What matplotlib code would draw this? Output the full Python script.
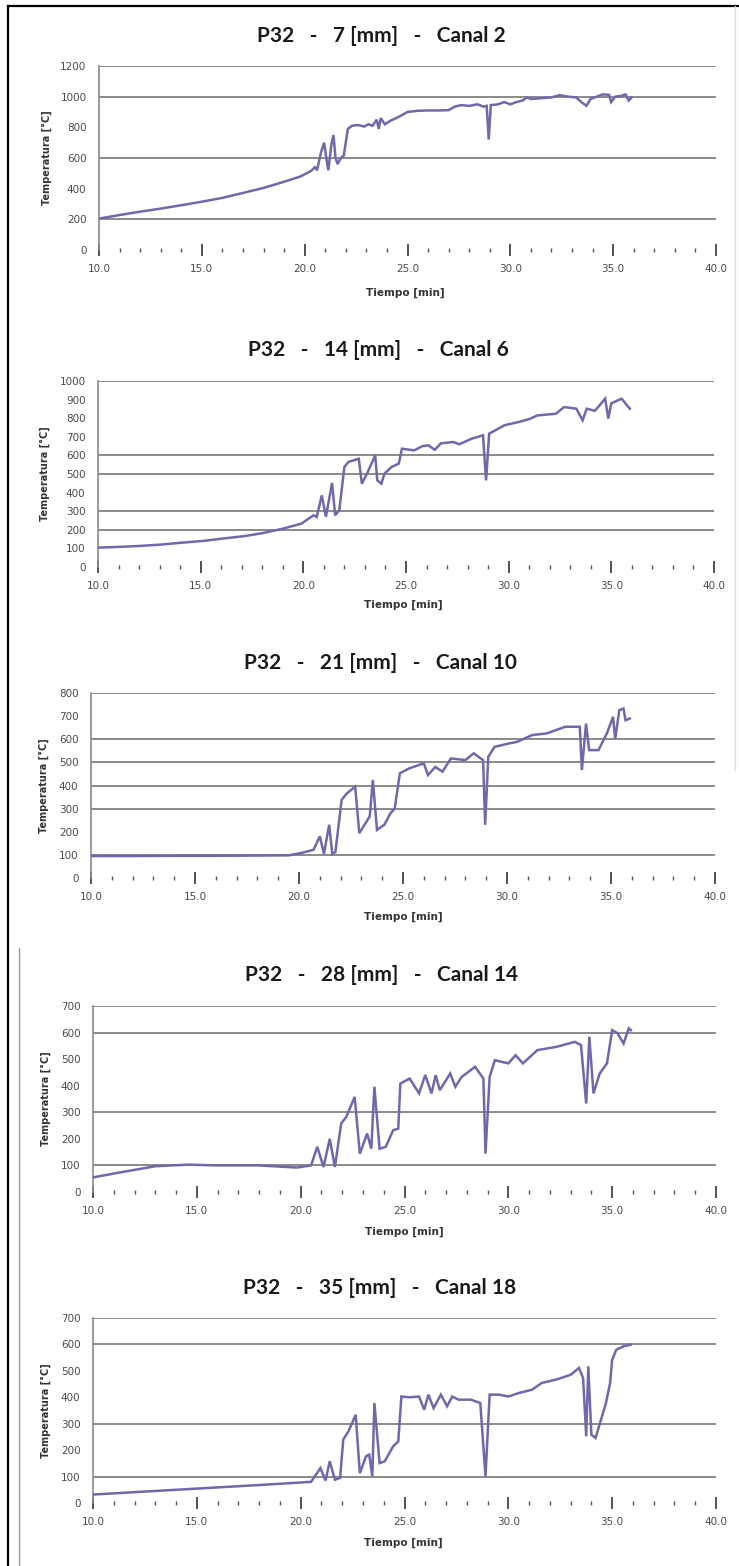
import matplotlib
matplotlib.use("Agg")
import matplotlib.pyplot as plt
from matplotlib.lines import Line2D
import numpy as np

# ---- data: time [min] and temperature [°C] for each thermocouple channel ----
titles = [
    "P32   -   7 [mm]   -   Canal 2",
    "P32   -   14 [mm]   -   Canal 6",
    "P32   -   21 [mm]   -   Canal 10",
    "P32   -   28 [mm]   -   Canal 14",
    "P32   -   35 [mm]   -   Canal 18",
]

t_c2 = [10.0, 11.0, 12.0, 13.0, 14.0, 15.0, 16.0, 17.0, 18.0, 19.0, 19.8, 20.3, 20.5, 20.6,
        20.8, 20.95, 21.05, 21.15, 21.3, 21.4, 21.5, 21.6, 21.75, 21.9, 22.1, 22.3, 22.6,
        22.9, 23.1, 23.3, 23.5, 23.6, 23.7, 23.9, 24.2, 24.6, 25.0, 25.5, 26.0, 26.5, 27.0,
        27.3, 27.6, 28.0, 28.4, 28.7, 28.85, 28.95, 29.05, 29.4, 29.7, 30.0, 30.3, 30.6,
        30.8, 31.0, 31.5, 32.0, 32.4, 32.8, 33.2, 33.5, 33.7, 33.9, 34.2, 34.5, 34.8, 34.9,
        35.1, 35.4, 35.6, 35.75, 35.9]
T_c2 = [205, 228, 250, 270, 292, 315, 340, 372, 405, 445, 480, 515, 540, 520,
        640, 700, 600, 520, 690, 750, 600, 560, 600, 615, 790, 810, 815,
        805, 820, 810, 850, 790, 860, 820, 845, 870, 900, 908, 910, 910, 912,
        935, 945, 940, 950, 935, 940, 720, 945, 950, 965, 950, 965, 975,
        995, 985, 990, 995, 1010, 1000, 995, 960, 940, 985, 1000, 1015, 1012, 965,
        1000, 1005, 1015, 975, 995]

t_c6 = [10.0, 11.0, 12.0, 13.0, 14.0, 15.1, 16.0, 17.2, 18.0, 19.0, 19.9, 20.5, 20.65,
        20.9, 21.1, 21.4, 21.55, 21.75, 22.0, 22.2, 22.7, 22.85, 23.1, 23.5, 23.6, 23.8,
        23.95, 24.3, 24.65, 24.8, 25.4, 25.8, 26.1, 26.4, 26.7, 27.3, 27.6, 28.2, 28.75,
        28.9, 29.05, 29.8, 30.5, 31.0, 31.4, 32.3, 32.7, 33.3, 33.6, 33.8, 34.2, 34.7,
        34.85, 35.0, 35.5, 35.7, 35.9]
T_c6 = [104, 108, 113, 120, 130, 140, 152, 167, 182, 206, 233, 278, 269,
        385, 270, 452, 278, 305, 538, 565, 582, 448, 502, 600, 466, 448,
        502, 538, 556, 636, 627, 650, 654, 630, 665, 672, 660, 690, 708,
        466, 717, 762, 780, 795, 815, 824, 860, 851, 789, 851, 840, 905,
        798, 880, 905, 878, 851]

t_c10 = [10.0, 12.0, 14.0, 16.0, 18.0, 19.5, 20.1, 20.7, 21.0, 21.2, 21.45, 21.6, 21.75,
         22.05, 22.3, 22.7, 22.9, 23.2, 23.4, 23.55, 23.75, 24.1, 24.4, 24.6, 24.85,
         25.3, 26.0, 26.2, 26.55, 26.9, 27.3, 28.0, 28.4, 28.85, 28.95, 29.1, 29.4, 30.1,
         30.5, 31.2, 31.9, 32.8, 33.5, 33.6, 33.8, 33.95, 34.4, 34.8, 35.1, 35.2, 35.4,
         35.6, 35.7, 35.9]
T_c10 = [95, 95, 96, 96, 97, 98, 108, 122, 180, 105, 230, 105, 112,
         338, 366, 395, 194, 237, 266, 424, 208, 230, 280, 300, 453,
         474, 496, 445, 480, 460, 517, 510, 539, 510, 230, 524, 567, 582,
         589, 618, 625, 654, 654, 467, 668, 553, 553, 625, 697, 600, 726,
         733, 682, 690]

t_c14 = [10.0, 11.4, 13.0, 14.6, 16.0, 18.0, 19.8, 20.5, 20.8, 21.1, 21.4, 21.65, 21.95,
         22.2, 22.6, 22.85, 23.2, 23.4, 23.55, 23.8, 24.1, 24.45, 24.7, 24.8, 25.25,
         25.7, 26.0, 26.3, 26.5, 26.7, 27.2, 27.45, 27.75, 28.4, 28.8, 28.9, 29.1, 29.35,
         30.0, 30.35, 30.7, 31.4, 32.3, 33.2, 33.5, 33.75, 33.9, 34.1, 34.4, 34.75, 35.0,
         35.25, 35.55, 35.8, 35.9]
T_c14 = [55, 75, 97, 103, 100, 100, 92, 100, 170, 94, 200, 94, 258,
         283, 358, 144, 220, 163, 396, 163, 170, 232, 239, 408, 427,
         371, 440, 371, 440, 383, 446, 396, 433, 471, 427, 144, 433, 496,
         484, 515, 484, 534, 546, 565, 553, 333, 584, 371, 446, 484, 609,
         598, 559, 616, 609]

t_c18 = [10.0, 12.0, 14.0, 16.0, 18.0, 20.5, 20.95, 21.2, 21.4, 21.65, 21.9, 22.05, 22.3,
         22.65, 22.85, 23.15, 23.3, 23.45, 23.55, 23.8, 24.05, 24.45, 24.7, 24.85, 25.25,
         25.7, 25.95, 26.15, 26.4, 26.75, 27.05, 27.3, 27.6, 28.2, 28.65, 28.9, 29.1,
         29.55, 30.0, 30.5, 31.15, 31.6, 32.3, 33.0, 33.4, 33.6, 33.75, 33.85, 34.0, 34.2,
         34.7, 34.9, 35.0, 35.2, 35.55, 35.9]
T_c18 = [32, 41, 50, 59, 68, 80, 132, 85, 158, 88, 95, 240, 271,
         334, 113, 177, 183, 101, 378, 151, 158, 214, 233, 403, 400,
         403, 353, 410, 359, 410, 366, 403, 391, 391, 378, 101, 410,
         410, 403, 416, 429, 454, 467, 485, 511, 473, 252, 517, 258, 246,
         378, 454, 542, 580, 593, 599]

series_t = [t_c2, t_c6, t_c10, t_c14, t_c18]
series_T = [T_c2, T_c6, T_c10, T_c14, T_c18]

y_max = [1200, 1000, 800, 700, 700]
y_step = [200, 100, 100, 100, 100]
grid_levels = [
    [200, 600, 1000, 1200],
    [200, 300, 500, 600, 1000],
    [100, 300, 400, 500, 600, 800],
    [100, 300, 600, 700],
    [100, 300, 600, 700],
]

# ---- layout (pixel boxes: left, right, top, bottom) ----
W, H = 739, 1566
boxes = [
    (99, 716, 66, 250),
    (98, 714, 381, 567),
    (91, 715, 693, 878),
    (93, 716, 1006, 1192),
    (93, 716, 1318, 1503),
]
title_pos = [(381, 36), (378, 350), (380, 663), (381, 975), (380, 1288)]
xlabel_pos = [(405, 293), (403, 605), (403, 917), (404, 1232), (403, 1543)]
ylabel_x = [47, 45, 44, 46, 46]

LINE = "#7466ab"
GRID = "#8a8a8a"
TICKC = "#4a4a4a"

fig = plt.figure(figsize=(W / 100, H / 100), dpi=100)
fig.patch.set_facecolor("white")


def px(x, y):
    return x / W, 1 - y / H


for i in range(5):
    l, r, t, b = boxes[i]
    ax = fig.add_axes([l / W, 1 - b / H, (r - l) / W, (b - t) / H])
    ax.set_xlim(10, 40)
    ax.set_ylim(0, y_max[i])
    for g in grid_levels[i]:
        ax.axhline(g, color=GRID, lw=1.4, zorder=1)
    ax.plot(series_t[i], series_T[i], color=LINE, lw=1.8, zorder=3,
            solid_joinstyle="miter")

    for s in ("top", "right", "bottom"):
        ax.spines[s].set_visible(False)
    ax.spines["left"].set_color("#8a8a8a")
    ax.spines["left"].set_linewidth(1.2)

    yt = np.arange(0, y_max[i] + 1, y_step[i])
    ax.set_yticks(yt)
    ax.set_yticklabels([str(v) for v in yt])
    xt = np.arange(10, 41, 5)
    ax.set_xticks(xt)
    ax.set_xticklabels([f"{v:.1f}" for v in xt])
    ax.set_xticks(np.arange(10, 41, 1), minor=True)
    ax.tick_params(axis="y", length=0, pad=9, labelsize=7.5, labelcolor=TICKC)
    ax.tick_params(axis="x", which="major", direction="inout", length=8, width=1.2,
                   color="#333333", pad=6, labelsize=7.5, labelcolor=TICKC)
    ax.tick_params(axis="x", which="minor", direction="inout", length=3, width=1.0,
                   color="#555555")

    tx, ty = px(*title_pos[i])
    fig.text(tx, ty, titles[i], ha="center", va="center", fontsize=15,
             family="Lato", weight="bold", color="#1a1a1a")
    lx, ly = px(*xlabel_pos[i])
    fig.text(lx, ly, "Tiempo [min]", ha="center", va="center", fontsize=7.5,
             weight="bold", color="#333333")
    yx, yy = px(ylabel_x[i], (t + b) / 2)
    fig.text(yx, yy, "Temperatura [°C]", ha="center", va="center", rotation=90,
             fontsize=7, weight="bold", color="#333333")

# page frame lines
fig.add_artist(Line2D([8 / W, 8 / W], [0, 1 - 6 / H], color="black", lw=1.6))
fig.add_artist(Line2D([8 / W, 1], [1 - 6 / H, 1 - 6 / H], color="black", lw=1.6))
fig.add_artist(Line2D([735 / W, 735 / W], [1 - 770 / H, 1 - 6 / H], color="#dddddd", lw=1.0))
fig.add_artist(Line2D([19 / W, 19 / W], [0, 1 - 948 / H], color="#999999", lw=1.0))

fig.savefig("out.png", dpi=100, facecolor="white")
